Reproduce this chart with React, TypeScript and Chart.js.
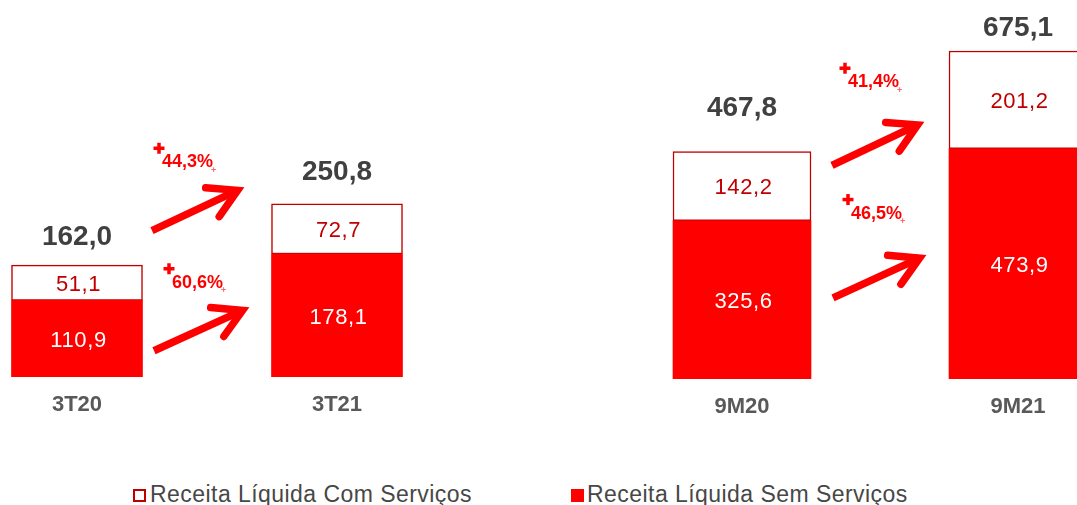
import React, { useEffect, useRef } from "react";
import { Chart, registerables } from "chart.js";

Chart.register(...registerables);

const SERIES_COM = "Receita Líquida Com Serviços";
const SERIES_SEM = "Receita Líquida Sem Serviços";

// Quarter comparison (3T20 vs 3T21)
const quarterLabels = ["3T20", "3T21"];
const quarterSemServicos = [110.9, 178.1];
const quarterComServicos = [51.1, 72.7];
const quarterTotals = [162.0, 250.8];
const quarterGrowthCom = 44.3;
const quarterGrowthSem = 60.6;

// Nine-month comparison (9M20 vs 9M21)
const ytdLabels = ["9M20", "9M21"];
const ytdSemServicos = [325.6, 473.9];
const ytdComServicos = [142.2, 201.2];
const ytdTotals = [467.8, 675.1];
const ytdGrowthCom = 41.4;
const ytdGrowthSem = 46.5;

const RED = "#FF0000";
const DARK_RED = "#C00000";
const FONT = '"Liberation Sans", Arial, sans-serif';

const fmt = (v: number) => v.toFixed(1).replace(".", ",");

type ArrowCfg = {
  growth: number;
  from: number;
  to: number;
  labelAt: number;
  startGap: number;
  endGap: number;
  labelDx: number;
};

type PanelCfg = {
  labels: string[];
  sem: number[];
  com: number[];
  totals: number[];
  left: number;
  width: number;
  height: number;
  padBottom: number;
  yMax: number;
  barThickness: number;
  totalLift: number[];
  arrows: ArrowCfg[];
};

const quarterPanel: PanelCfg = {
  labels: quarterLabels,
  sem: quarterSemServicos,
  com: quarterComServicos,
  totals: quarterTotals,
  left: -53,
  width: 520,
  height: 436,
  padBottom: 2.6,
  yMax: 546,
  barThickness: 131,
  totalLift: [28, 32],
  arrows: [
    { growth: quarterGrowthCom, from: 212, to: 274, labelAt: 311, startGap: 9.5, endGap: 28.5, labelDx: 10 },
    { growth: quarterGrowthSem, from: 38, to: 100, labelAt: 136.5, startGap: 11.5, endGap: 23.5, labelDx: 18 },
  ],
};

const ytdPanel: PanelCfg = {
  labels: ytdLabels,
  sem: ytdSemServicos,
  com: ytdComServicos,
  totals: ytdTotals,
  left: 604,
  width: 552,
  height: 436,
  padBottom: 0.6,
  yMax: 780,
  barThickness: 138,
  totalLift: [43, 23],
  arrows: [
    { growth: ytdGrowthCom, from: 439.5, to: 528.3, labelAt: 610.8, startGap: 21, endGap: 26, labelDx: 16 },
    { growth: ytdGrowthSem, from: 167.1, to: 253.8, labelAt: 340.5, startGap: 22, endGap: 24, labelDx: 18 },
  ],
};

function drawArrow(ctx: CanvasRenderingContext2D, x1: number, y1: number, x2: number, y2: number) {
  const ang = Math.atan2(y2 - y1, x2 - x1);
  const ux = Math.cos(ang);
  const uy = Math.sin(ang);
  const vx = x2 - ux * 6;
  const vy = y2 - uy * 6;
  ctx.strokeStyle = RED;
  ctx.lineWidth = 7.5;
  ctx.lineCap = "butt";
  ctx.beginPath();
  ctx.moveTo(x1, y1);
  ctx.lineTo(vx - ux * 3, vy - uy * 3);
  ctx.stroke();
  const headLen = 32;
  const spread = 0.52;
  const a1 = ang + Math.PI - spread;
  const a2 = ang + Math.PI + spread;
  ctx.lineCap = "round";
  ctx.lineJoin = "miter";
  ctx.miterLimit = 10;
  ctx.beginPath();
  ctx.moveTo(vx + Math.cos(a1) * headLen, vy + Math.sin(a1) * headLen);
  ctx.lineTo(vx, vy);
  ctx.lineTo(vx + Math.cos(a2) * headLen, vy + Math.sin(a2) * headLen);
  ctx.stroke();
}

function makeAnnotations(cfg: PanelCfg) {
  return {
    id: "annotations",
    afterDatasetsDraw(chart: any) {
      const ctx: CanvasRenderingContext2D = chart.ctx;
      const semMeta = chart.getDatasetMeta(0);
      const comMeta = chart.getDatasetMeta(1);
      const yScale = chart.scales.y;
      ctx.save();

      // segment values
      [semMeta, comMeta].forEach((meta: any, di: number) => {
        meta.data.forEach((bar: any, i: number) => {
          const p = bar.getProps(["x", "y", "base"], true);
          const v = chart.data.datasets[di].data[i] as number;
          ctx.font = `22px ${FONT}`;
          (ctx as any).letterSpacing = "0.6px";
          ctx.fillStyle = di === 0 ? "#FFFFFF" : DARK_RED;
          ctx.textAlign = "center";
          ctx.textBaseline = "middle";
          ctx.fillText(fmt(v), p.x + 1.5, (p.y + p.base) / 2 + 2);
        });
      });
      (ctx as any).letterSpacing = "0px";

      // totals above stacks
      comMeta.data.forEach((bar: any, i: number) => {
        const p = bar.getProps(["x", "y"], true);
        ctx.font = `bold 28px ${FONT}`;
        ctx.fillStyle = "#404040";
        ctx.textAlign = "center";
        ctx.textBaseline = "middle";
        ctx.fillText(fmt(cfg.totals[i]), p.x, p.y - cfg.totalLift[i]);
      });

      // growth arrows
      const b0 = semMeta.data[0].getProps(["x", "width"], true);
      const b1 = semMeta.data[1].getProps(["x", "width"], true);
      const x0r = b0.x + b0.width / 2;
      const x1l = b1.x - b1.width / 2;
      cfg.arrows.forEach((a) => {
        const sx = x0r + a.startGap;
        const sy = yScale.getPixelForValue(a.from);
        const ex = x1l - a.endGap;
        const ey = yScale.getPixelForValue(a.to);
        drawArrow(ctx, sx, sy, ex, ey);

        const lx = sx + a.labelDx;
        const ly = yScale.getPixelForValue(a.labelAt);
        const text = fmt(a.growth) + "%";
        ctx.font = `bold 18px ${FONT}`;
        ctx.fillStyle = RED;
        ctx.textAlign = "left";
        ctx.textBaseline = "middle";
        ctx.fillText(text, lx, ly);
        const tw = ctx.measureText(text).width;
        // plus sign
        const px = lx - 3;
        const py = ly - 14;
        ctx.fillRect(px - 5.5, py - 1.75, 11, 3.5);
        ctx.fillRect(px - 1.75, py - 5.5, 3.5, 11);
        // tiny trailing mark
        ctx.globalAlpha = 0.6;
        ctx.font = `bold 9px ${FONT}`;
        ctx.fillText("+", lx + tw - 2, ly + 8);
        ctx.globalAlpha = 1;
      });
      ctx.restore();
    },
  };
}

function Panel({ cfg }: { cfg: PanelCfg }) {
  const ref = useRef<HTMLCanvasElement>(null);
  useEffect(() => {
    if (!ref.current) return;
    const chart = new Chart(ref.current, {
      type: "bar",
      data: {
        labels: cfg.labels,
        datasets: [
          {
            label: SERIES_SEM,
            data: cfg.sem,
            backgroundColor: RED,
            borderWidth: 0,
            barThickness: cfg.barThickness,
          },
          {
            label: SERIES_COM,
            data: cfg.com,
            backgroundColor: "#FFFFFF",
            borderColor: DARK_RED,
            borderWidth: 1.5,
            borderSkipped: false,
            barThickness: cfg.barThickness,
          },
        ],
      },
      options: {
        responsive: false,
        animation: false,
        devicePixelRatio: 1,
        layout: { padding: { top: 0, left: 0, right: 0, bottom: cfg.padBottom } },
        plugins: {
          legend: { display: false },
          tooltip: { enabled: false },
        },
        scales: {
          x: {
            stacked: true,
            offset: true,
            grid: { display: false, drawTicks: false },
            border: { display: false },
            ticks: {
              color: "#595959",
              padding: 15,
              font: { family: FONT, size: 22, weight: "bold" },
            },
          },
          y: {
            stacked: true,
            display: false,
            min: 0,
            max: cfg.yMax,
          },
        },
      } as any,
      plugins: [makeAnnotations(cfg)],
    });
    return () => chart.destroy();
  }, [cfg]);
  return (
    <canvas
      ref={ref}
      width={cfg.width}
      height={cfg.height}
      style={{ position: "absolute", left: cfg.left, top: 0, width: cfg.width, height: cfg.height }}
    />
  );
}

const legendText: React.CSSProperties = {
  position: "absolute",
  top: 482.5,
  font: `23px ${FONT}`,
  lineHeight: "23px",
  letterSpacing: "0.45px",
  color: "#474747",
  whiteSpace: "nowrap",
};

export default function App() {
  return (
    <div
      style={{
        position: "fixed",
        left: 0,
        top: 0,
        width: 1077,
        height: 505,
        overflow: "hidden",
        background: "#FFFFFF",
      }}
    >
      <Panel cfg={quarterPanel} />
      <Panel cfg={ytdPanel} />
      <div
        style={{
          position: "absolute",
          left: 133,
          top: 489,
          width: 9,
          height: 9,
          border: `2px solid ${DARK_RED}`,
          background: "#FFFFFF",
        }}
      />
      <span style={{ ...legendText, left: 150 }}>{SERIES_COM}</span>
      <div
        style={{
          position: "absolute",
          left: 571,
          top: 489,
          width: 13,
          height: 13,
          background: RED,
        }}
      />
      <span style={{ ...legendText, left: 587 }}>{SERIES_SEM}</span>
    </div>
  );
}
